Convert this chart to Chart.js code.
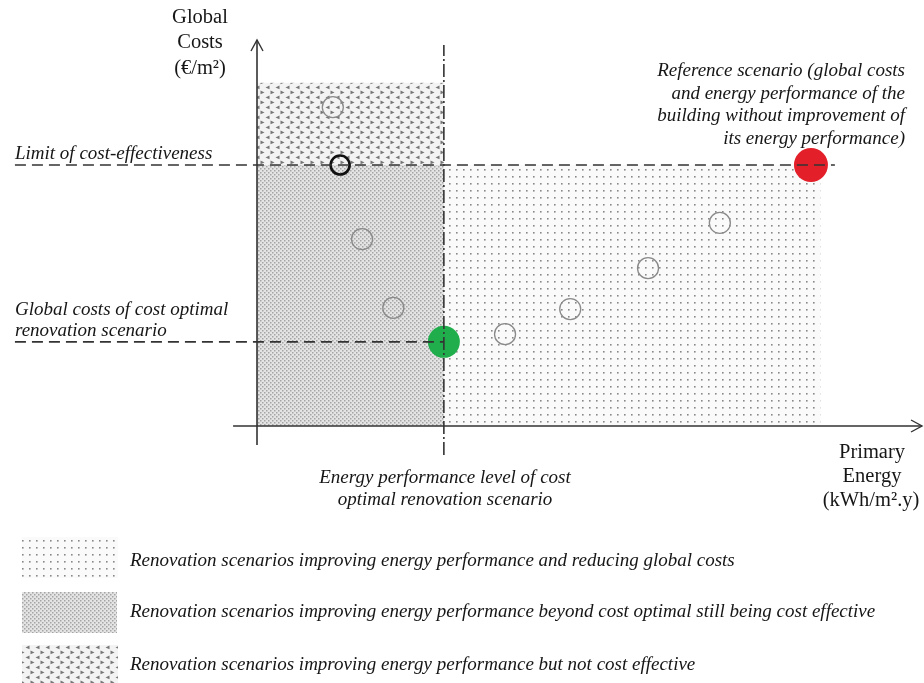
<!DOCTYPE html>
<html>
<head>
<meta charset="utf-8">
<script src="https://cdn.jsdelivr.net/npm/chart.js@4.4.0/dist/chart.umd.min.js"></script>
<style>
  body { margin: 0; background: #fff; }
  canvas { display: block; }
</style>
</head>
<body>
<canvas id="chart" width="924" height="683"></canvas>
<script>
// scenario values in arbitrary units (x = primary energy, y = global costs)
var scenarioEnergy = [11.4, 15.8, 20.5, 37.3, 47.1, 58.8, 69.6]
var scenarioCost   = [82.6, 48.4, 30.6, 23.8, 30.3, 40.9, 52.6]

var limitPoint     = [12.5, 67.6]   // black circle on the cost-effectiveness limit
var optimalPoint   = [28.1, 21.8]   // cost optimal scenario (green)
var referencePoint = [83.3, 67.6]   // reference scenario (red)

var notEffectiveTop = 88.9          // upper edge of the "not cost effective" area
var lightAreaRight  = 84.7          // right edge of the "reducing global costs" area

var legendLabels = [
    "Renovation scenarios improving energy performance and reducing global costs",
    "Renovation scenarios improving energy performance beyond cost optimal still being cost effective",
    "Renovation scenarios improving energy performance but not cost effective"
]

var serif = '"Liberation Serif", "DejaVu Serif", serif'
var ink = "#161616"

// patterns used for the shaded zones
function makePattern(w, h, bg, draw) {
    var c = document.createElement("canvas")
    c.width = w; c.height = h
    var g = c.getContext("2d")
    g.fillStyle = bg
    g.fillRect(0, 0, w, h)
    draw(g)
    return g.createPattern(c, "repeat")
}
var lightDots = makePattern(7, 7, "#fafafa", function(g) {
    g.fillStyle = "#888"
    g.fillRect(1, 1, 1.6, 1.6)
})
var denseDots = makePattern(4, 4, "#e4e4e4", function(g) {
    g.fillStyle = "#a4a4a4"
    g.fillRect(0, 0, 1.5, 1.5)
    g.fillRect(2, 2, 1.5, 1.5)
})
var arrowDots = makePattern(10, 10, "#f3f3f3", function(g) {
    g.fillStyle = "#767676"
    g.beginPath(); g.moveTo(0.5, 0.5); g.lineTo(4.5, 2.4); g.lineTo(0.5, 4.3); g.fill()
    g.beginPath(); g.moveTo(9.5, 5.5); g.lineTo(5.5, 7.4); g.lineTo(9.5, 9.3); g.fill()
})

function toXY(xs, ys) {
    return xs.map(function(x, i) { return {x: x, y: ys[i]} })
}

var diagram = {
    id: "diagram",
    beforeDatasetsDraw: function(chart) {
        var c = chart.ctx, xs = chart.scales.x, ys = chart.scales.y
        function px(v) { return xs.getPixelForValue(v) }
        function py(v) { return ys.getPixelForValue(v) }
        c.save()
        // zones
        c.fillStyle = arrowDots
        c.fillRect(px(0), py(notEffectiveTop), px(optimalPoint[0]) - px(0), py(limitPoint[1]) - py(notEffectiveTop))
        c.fillStyle = denseDots
        c.fillRect(px(0), py(limitPoint[1]), px(optimalPoint[0]) - px(0), py(0) - py(limitPoint[1]))
        c.fillStyle = lightDots
        c.fillRect(px(optimalPoint[0]), py(limitPoint[1]), px(lightAreaRight) - px(optimalPoint[0]), py(0) - py(limitPoint[1]))

        // axes with arrows
        c.strokeStyle = "#333"
        c.lineWidth = 1.6
        c.beginPath()
        c.moveTo(px(0), py(-4.9)); c.lineTo(px(0), py(100))
        c.moveTo(px(-3.6), py(0)); c.lineTo(px(100), py(0))
        c.stroke()
        c.lineWidth = 1.4
        c.beginPath()
        c.moveTo(px(0) - 6, py(100) + 11); c.lineTo(px(0), py(100)); c.lineTo(px(0) + 6, py(100) + 11)
        c.moveTo(px(100) - 11, py(0) - 6); c.lineTo(px(100), py(0)); c.lineTo(px(100) - 11, py(0) + 6)
        c.stroke()

        // legend swatches
        var boxes = [[22, 537, 96, 41, lightDots], [22, 592, 95, 41, denseDots], [22, 645, 96, 38, arrowDots]]
        boxes.forEach(function(b) {
            c.fillStyle = b[4]
            c.fillRect(b[0], b[1], b[2], b[3])
        })
        c.restore()
    },
    afterDraw: function(chart) {
        var c = chart.ctx
        c.save()
        c.fillStyle = ink
        c.textBaseline = "middle"

        // axis titles (upright)
        c.font = "20.5px " + serif
        c.textAlign = "center"
        c.fillText("Global", 200, 18)
        c.fillText("Costs", 200, 43)
        c.fillText("(€/m²)", 200, 69)
        c.fillText("Primary", 872, 453)
        c.fillText("Energy", 872, 477)
        c.fillText("(kWh/m².y)", 871, 501)

        // annotations (italic)
        c.font = "italic 19px " + serif
        c.textAlign = "left"
        c.fillText("Limit of cost-effectiveness", 15, 154)
        c.fillText("Global costs of cost optimal", 15, 310)
        c.fillText("renovation scenario", 15, 331)

        c.textAlign = "center"
        c.fillText("Energy performance level of cost", 445, 478)
        c.fillText("optimal renovation scenario", 445, 500)

        c.textAlign = "right"
        var ref = ["Reference scenario (global costs", "and energy performance of the",
                   "building without improvement of", "its energy performance)"]
        ref.forEach(function(t, i) { c.fillText(t, 905, 71 + i * 22.5) })

        c.textAlign = "left"
        var ly = [561, 612, 665]
        legendLabels.forEach(function(t, i) { c.fillText(t, 130, ly[i]) })
        c.restore()
    }
}

var dashed = {borderColor: "#333", borderWidth: 1.6, borderDash: [11, 6], pointRadius: 0, fill: false, clip: false}

new Chart(document.getElementById("chart"), {
    type: "scatter",
    data: {
        datasets: [
            Object.assign({label: "limit", type: "line",
                data: [{x: -36.4, y: limitPoint[1]}, {x: 86.9, y: limitPoint[1]}]}, dashed),
            Object.assign({label: "optimal cost", type: "line",
                data: [{x: -36.4, y: optimalPoint[1]}, {x: optimalPoint[0], y: optimalPoint[1]}]}, dashed),
            Object.assign({label: "optimal energy", type: "line",
                data: [{x: optimalPoint[0], y: -7.5}, {x: optimalPoint[0], y: 98.7}]}, dashed, {borderDash: [13, 3, 2, 3]}),
            {
                label: "scenarios",
                data: toXY(scenarioEnergy, scenarioCost),
                pointRadius: 10.5,
                pointBorderWidth: 1.3,
                pointBorderColor: "#8a8a8a",
                pointBackgroundColor: "rgba(0,0,0,0)",
                clip: false
            },
            {
                label: "limit scenario",
                data: [{x: limitPoint[0], y: limitPoint[1]}],
                pointRadius: 9.5,
                pointBorderWidth: 2.6,
                pointBorderColor: "#111",
                pointBackgroundColor: "rgba(0,0,0,0)",
                clip: false
            },
            {
                label: "cost optimal",
                data: [{x: optimalPoint[0], y: optimalPoint[1]}],
                pointRadius: 16,
                pointBorderWidth: 0,
                pointBackgroundColor: "#1fae4b",
                clip: false
            },
            {
                label: "reference",
                data: [{x: referencePoint[0], y: referencePoint[1]}],
                pointRadius: 17,
                pointBorderWidth: 0,
                pointBackgroundColor: "#e3202a",
                clip: false
            }
        ]
    },
    options: {
        responsive: false,
        animation: false,
        layout: {autoPadding: false, padding: {left: 257, right: 2, top: 40, bottom: 257}},
        scales: {
            x: {type: "linear", min: 0, max: 100, display: false},
            y: {type: "linear", min: 0, max: 100, display: false}
        },
        plugins: {legend: {display: false}, tooltip: {enabled: false}}
    },
    plugins: [diagram]
})
</script>
</body>
</html>
